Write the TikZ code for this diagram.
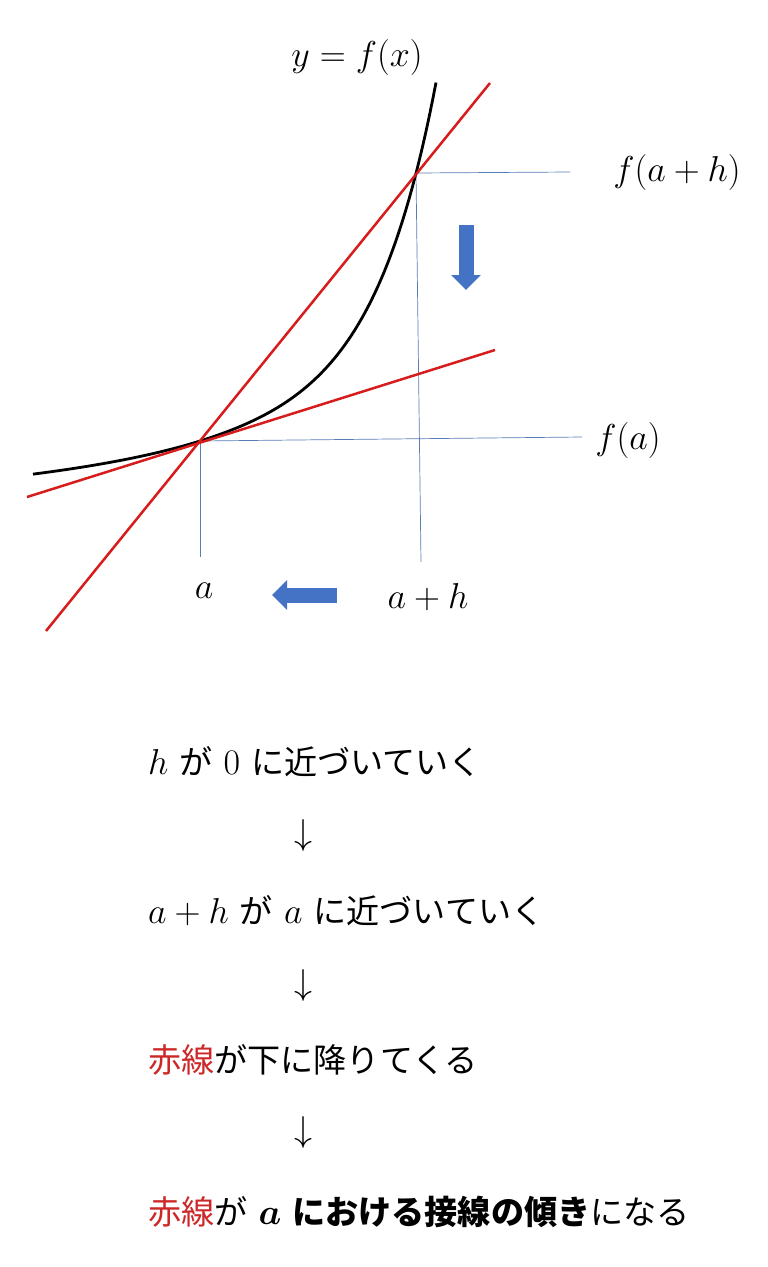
\RequirePackage{fix-cm}
\documentclass[tikz,border=0pt]{standalone}
\usepackage{amsmath}
\usepackage{fontspec}
\newfontfamily\cjk[Scale=0.92]{Noto Sans CJK JP}
\newcommand{\jgap}{\hspace{11pt}}
\usetikzlibrary{arrows.meta}
\definecolor{linered}{RGB}{214,28,28}
\definecolor{textred}{RGB}{204,40,40}
\definecolor{arrowblue}{RGB}{68,114,196}
\definecolor{guideblue}{RGB}{88,124,182}
\tikzset{
    redline/.style={draw=linered, line width=2.5pt},
    guide/.style={draw=guideblue, line width=0.7pt},
    fatarrow/.style={draw=arrowblue, line width=15pt, -{Triangle[length=15pt,width=29pt,fill=arrowblue]}},
    mathlbl/.style={font=\fontsize{36}{42}\selectfont, inner sep=0pt},
    jline/.style={font=\fontsize{36}{42}\selectfont\cjk, anchor=base west, inner sep=0pt}
}
\begin{document}
\begin{tikzpicture}[x=1pt, y=-1pt]

    \useasboundingbox (0,0) rectangle (768,1267);

    \coordinate (A) at (200,441);
    \coordinate (B) at (416,173);
    \coordinate (fa) at (582,437);
    \coordinate (fah) at (570,172);
    \coordinate (xa) at (200,557);
    \coordinate (xah) at (421,562);
    \coordinate (s1) at (46,631);
    \coordinate (s2) at (490,83);
    \coordinate (t1) at (27,497);
    \coordinate (t2) at (495,350);

    \draw[guide] (A) -- (fa);
    \draw[guide] (A) -- (xa);
    \draw[guide] (B) -- (fah);
    \draw[guide] (B) -- (xah);

    \draw[line width=2.8pt] plot[domain=33:436, samples=120] (\x, {441 - 0.314*(\x-200) - 7.72*(exp(0.0158*(\x-200)) - 1 - 0.0158*(\x-200)) - (0.0148*min(\x-200,0))^2});

    \draw[redline] (s1) -- (s2);
    \draw[redline] (t1) -- (t2);

    \draw(357,57) node[mathlbl] (lbly) {$y=f(x)$};
    \draw(677,172) node[mathlbl] (lblfah) {$f(a+h)$};
    \draw(628,440) node[mathlbl] (lblfa) {$f(a)$};
    \draw(204,591) node[mathlbl] (lbla) {$a$};
    \draw(428,597) node[mathlbl] (lblah) {$a+h$};

    \coordinate (d1) at (466,225);
    \coordinate (d2) at (466,290);
    \coordinate (l1) at (337,595);
    \coordinate (l2) at (272,595);
    \draw[fatarrow] (d1) -- (d2);
    \draw[fatarrow] (l1) -- (l2);

    \draw(148,774) node[jline] (step1) {$h$\jgap が\jgap$0$\jgap に近づいていく};
    \draw(303,835) node[mathlbl] (dn1) {$\downarrow$};
    \draw(148,923) node[jline] (step2) {$a+h$\jgap が\jgap$a$\jgap に近づいていく};
    \draw(303,985) node[mathlbl] (dn2) {$\downarrow$};
    \draw(148,1072) node[jline] (step3) {{\color{textred}赤線}が下に降りてくる};
    \draw(303,1132) node[mathlbl] (dn3) {$\downarrow$};
    \draw(148,1224) node[jline] (step4) {{\color{textred}赤線}が\jgap$\boldsymbol{a}$\jgap{\bfseries における接線の傾き}になる};

\end{tikzpicture}
\end{document}
